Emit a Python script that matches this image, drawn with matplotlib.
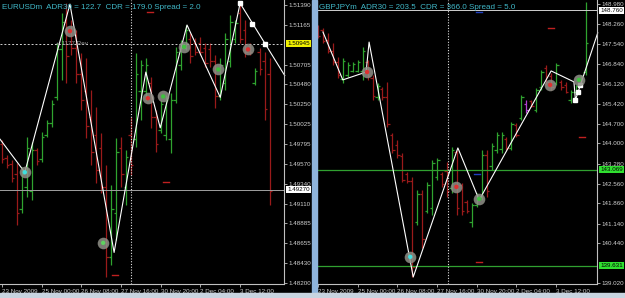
import matplotlib.pyplot as plt
import matplotlib.transforms as mtransforms
from matplotlib.patches import Rectangle

# ---- EURUSDm H4 bars (price) ----
eu_high = [1.4984, 1.4967, 1.4961, 1.4958, 1.4953, 1.4988, 1.4982, 1.4975, 1.4993, 1.5007,
           1.5030, 1.5095, 1.5130, 1.5141, 1.5122, 1.5110, 1.5084, 1.5078, 1.5041, 1.5022,
           1.4992, 1.4955, 1.4932, 1.4986, 1.4988, 1.4973, 1.5010, 1.5084, 1.5076, 1.5078,
           1.5056, 1.5019, 1.5030, 1.5036, 1.5038, 1.5091, 1.5099, 1.5116, 1.5107, 1.5101,
           1.5102, 1.5095, 1.5095, 1.5082, 1.5078, 1.5107, 1.5127, 1.5122, 1.5141, 1.5122,
           1.5095, 1.5067, 1.5090, 1.5085, 1.5078]
eu_low = [1.4958, 1.4952, 1.4936, 1.4887, 1.4900, 1.4919, 1.4915, 1.4955, 1.4959, 1.4988,
          1.4999, 1.5030, 1.5053, 1.5049, 1.5082, 1.5049, 1.5019, 1.4986, 1.4955, 1.4935,
          1.4923, 1.4827, 1.4841, 1.4869, 1.4930, 1.4910, 1.4944, 1.4976, 1.5007, 1.5030,
          1.4998, 1.4970, 1.4992, 1.4984, 1.4969, 1.5027, 1.5064, 1.5087, 1.5072, 1.5082,
          1.5082, 1.5068, 1.5068, 1.5021, 1.5030, 1.5041, 1.5068, 1.5095, 1.5095, 1.5079,
          1.5082, 1.5047, 1.5059, 1.5007, 1.4910]
eu_open = [1.4980, 1.4963, 1.4956, 1.4945, 1.4905, 1.4930, 1.4925, 1.4972, 1.4962, 1.4990,
           1.5003, 1.5033, 1.5088, 1.5120, 1.5110, 1.5090, 1.5060, 1.5040, 1.5010, 1.4990,
           1.4975, 1.4930, 1.4850, 1.4900, 1.4975, 1.4930, 1.4990, 1.4985, 1.5040, 1.5040,
           1.5050, 1.5010, 1.4995, 1.4990, 1.4985, 1.5030, 1.5070, 1.5090, 1.5100, 1.5095,
           1.5095, 1.5090, 1.5088, 1.5075, 1.5035, 1.5050, 1.5075, 1.5100, 1.5130, 1.5110,
           1.5092, 1.5050, 1.5085, 1.5075, 1.5060]
eu_close = [1.4962, 1.4955, 1.4940, 1.4900, 1.4945, 1.4975, 1.4972, 1.4960, 1.4988, 1.5004,
            1.5025, 1.5088, 1.5120, 1.5080, 1.5090, 1.5060, 1.5030, 1.5000, 1.4970, 1.4950,
            1.4930, 1.4850, 1.4905, 1.4970, 1.4945, 1.4965, 1.4955, 1.5060, 1.5070, 1.5070,
            1.5010, 1.4980, 1.5025, 1.5030, 1.5030, 1.5085, 1.5090, 1.5110, 1.5080, 1.5085,
            1.5085, 1.5072, 1.5075, 1.5035, 1.5070, 1.5100, 1.5120, 1.5118, 1.5100, 1.5085,
            1.5085, 1.5063, 1.5065, 1.5020, 1.4925]

eu_zz_x = [-0.4, 4.6, 13.7, 22.6, 29.0, 31.9, 37.3, 44.0, 48.0, 57.0]
eu_zz_y = [1.4985, 1.4947, 1.5140, 1.4855, 1.5062, 1.4998, 1.5116, 1.5033, 1.5141, 1.5058]
eu_sq_x = [48.0, 50.4, 53.0]
eu_sq_y = [1.5141, 1.5117, 1.5094]
eu_circ_x = [4.6, 13.7, 20.4, 29.4, 32.5, 36.7, 43.6, 49.6]
eu_circ_y = [1.4947, 1.5109, 1.4866, 1.5032, 1.5034, 1.5091, 1.5065, 1.5088]
eu_circ_c = ['#40e0e0', '#e03030', '#60d060', '#e03030', '#40c040', '#40c040', '#40c040', '#e03030']
eu_dash_x = [22.8, 33.0, 29.8]
eu_dash_y = [1.4829, 1.4936, 1.5131]
eu_yticks = [1.51390, 1.51165, 1.50705, 1.50480, 1.50250, 1.50025, 1.49795, 1.49570,
             1.49340, 1.49110, 1.48885, 1.48655, 1.48430, 1.48200]
eu_bid = 1.50945
eu_line = 1.49270

# ---- GBPJPYm H4 bars ----
gj_high = [148.23, 148.12, 147.95, 147.59, 147.09, 147.05, 146.91, 146.91, 146.98, 147.45,
           146.98, 146.45, 146.16, 146.02, 146.20, 144.37, 144.13, 143.66, 142.98, 142.80,
           142.34, 142.34, 142.62, 143.41, 143.48, 142.98, 143.34, 143.87, 143.77, 142.59,
           141.98, 141.87, 142.23, 143.77, 143.77, 144.02, 144.41, 144.41, 144.23, 144.77,
           144.73, 145.73, 145.55, 145.55, 145.98, 146.62, 146.80, 146.52, 146.87, 146.27,
           146.20, 145.91, 146.09, 146.45, 149.05]
gj_low = [147.77, 147.59, 147.23, 146.80, 146.34, 146.16, 146.37, 146.55, 146.55, 146.27,
          146.27, 145.55, 145.55, 145.55, 144.59, 143.66, 143.48, 142.62, 142.59, 139.23,
          141.09, 140.27, 141.52, 141.45, 142.70, 142.45, 142.09, 142.23, 141.45, 141.45,
          141.52, 141.02, 141.73, 141.98, 142.09, 143.05, 143.66, 143.66, 143.77, 143.77,
          144.23, 144.84, 145.09, 145.30, 145.12, 145.91, 146.09, 145.91, 146.09, 145.91,
          145.80, 145.45, 145.80, 146.09, 146.45]
gj_open = [148.15, 148.05, 147.70, 147.30, 146.90, 146.30, 146.45, 146.60, 146.60, 146.60,
           146.90, 146.35, 145.65, 145.95, 145.65, 144.30, 143.95, 143.55, 142.90, 142.65,
           141.20, 142.20, 141.60, 141.70, 142.80, 142.90, 143.00, 142.40, 143.70, 142.50,
           141.90, 141.20, 141.80, 142.10, 143.60, 143.20, 143.75, 143.80, 144.15, 143.85,
           144.65, 144.90, 145.40, 145.50, 145.20, 146.00, 146.70, 146.40, 146.15, 146.20,
           146.10, 145.55, 145.85, 146.10, 146.55]
gj_close = [147.85, 147.65, 147.30, 146.90, 146.45, 146.95, 146.80, 146.85, 146.90, 147.30,
            146.40, 145.70, 146.05, 145.65, 144.70, 143.75, 143.60, 142.70, 142.65, 139.60,
            142.20, 140.60, 142.50, 143.30, 143.40, 142.55, 142.30, 143.75, 141.70, 141.60,
            141.60, 141.80, 142.15, 143.60, 142.30, 143.90, 144.30, 144.30, 143.85, 144.70,
            144.30, 145.65, 145.20, 145.35, 145.90, 146.55, 146.20, 146.00, 146.80, 146.00,
            145.85, 145.85, 146.05, 146.40, 147.60]
gj_purple = [42]

gj_zz_x = [1.0, 5.0, 9.7, 10.3, 19.2, 28.2, 32.5, 47.0, 51.6, 51.9, 56.4]
gj_zz_y = [147.98, 146.27, 146.55, 147.62, 139.23, 143.84, 141.98, 146.59, 146.20, 145.55, 147.95]
gj_sq_x = [51.9, 52.5, 52.9]
gj_sq_y = [145.55, 145.84, 146.09]
gj_circ_x = [9.9, 18.6, 27.9, 32.5, 46.8, 52.6]
gj_circ_y = [146.55, 139.95, 142.45, 142.02, 146.09, 146.27]
gj_circ_c = ['#e03030', '#40e0e0', '#e03030', '#40c040', '#e03030', '#40c040']
gj_dash_x = [32.4, 53.2, 47.0]
gj_dash_y = [139.77, 144.24, 148.11]
gj_bdash_x = [32.0, 32.5]
gj_bdash_y = [142.91, 148.70]
gj_yticks = [148.980, 148.260, 147.540, 146.840, 146.120, 145.420, 144.700, 144.000,
             143.280, 142.560, 141.860, 141.140, 140.440, 139.020]
gj_top = 148.760
gj_g1 = 143.069
gj_g2 = 139.631

date_pos = [0, 8, 16, 24, 32, 40, 48]
date_lbl = ['23 Nov 2009', '25 Nov 00:00', '26 Nov 08:00', '27 Nov 16:00',
            '30 Nov 20:00', '2 Dec 04:00', '3 Dec 12:00']

GREEN = '#2fa32f'
RED = '#9a1a1a'
TXT = '#d0d0d0'
FS = 4.5


def draw_bars(ax, o, h, l, c, purple=()):
    for i in range(len(h)):
        col = GREEN if c[i] >= o[i] else RED
        if i in purple:
            col = '#b040d0'
        ax.vlines(i, l[i], h[i], color=col, lw=0.9)
        ax.hlines(o[i], i - 0.5, i, color=col, lw=0.9)
        ax.hlines(c[i], i, i + 0.5, color=col, lw=0.9)


def style(ax, xlim, ylim, yticks, fmt):
    ax.set_facecolor('black')
    ax.set_xlim(xlim)
    ax.set_ylim(ylim)
    for s in ['left', 'top']:
        ax.spines[s].set_visible(False)
    for s in ['right', 'bottom']:
        ax.spines[s].set_color('#c0c0c0')
        ax.spines[s].set_linewidth(0.8)
    ax.yaxis.tick_right()
    ax.set_yticks(yticks)
    ax.set_yticklabels([fmt % v for v in yticks])
    ax.set_xticks(date_pos)
    ax.set_xticklabels(date_lbl, ha='left')
    ax.tick_params(colors='#c0c0c0', labelcolor=TXT, labelsize=FS, length=2, width=0.6, pad=1.5)
    for t in ax.get_yticklabels() + ax.get_xticklabels():
        t.set_family('Liberation Sans')


def price_box(ax, y, txt, bg):
    tr = mtransforms.blended_transform_factory(ax.transAxes, ax.transData)
    ax.text(1.012, y, txt, transform=tr, fontsize=FS, color='black', va='center', ha='left',
            family='Liberation Sans', clip_on=False, zorder=20,
            bbox=dict(boxstyle='square,pad=0.15', fc=bg, ec='none'))


fig = plt.figure(figsize=(6.25, 2.98), dpi=100, facecolor='black')
ax1 = fig.add_axes([0.0, 1 - 284 / 298, 284 / 625, 284 / 298])
ax2 = fig.add_axes([317 / 625, 1 - 284 / 298, 280 / 625, 284 / 298])

# EURUSD panel
style(ax1, (-0.4, 56.85), (1.48188, 1.51447), eu_yticks, '%.5f')
draw_bars(ax1, eu_open, eu_high, eu_low, eu_close)
ax1.axhline(eu_bid, color='#d0d0d0', lw=0.7, ls=(0, (2, 2)))
ax1.axhline(eu_line, color='#a0a0a0', lw=0.7)
ax1.axvline(26, color='#e0e0e0', lw=0.8, ls=(0, (1, 1.5)))
ax1.plot(eu_zz_x, eu_zz_y, color='white', lw=0.8, clip_on=False)
ax1.plot(eu_sq_x, eu_sq_y, 's', color='white', ms=2.2, lw=0)
ax1.scatter(eu_circ_x, eu_circ_y, s=70, color='#909088', alpha=0.85, lw=0, zorder=5)
ax1.scatter(eu_circ_x, eu_circ_y, s=10, c=eu_circ_c, lw=0, zorder=6)
for x, y in zip(eu_dash_x, eu_dash_y):
    ax1.plot([x - 0.6, x + 0.6], [y, y], color='#c02020', lw=1.0)
ax1.text(10.8, 1.50945, '+ 1177 Rev', color='#a0a0a0', fontsize=FS, va='center',
         family='Liberation Sans')
ax1.text(0.007, 0.985, 'EURUSDm  ADR30 = 122.7  CDR = 179.0 Spread = 2.0', transform=ax1.transAxes,
         color='#40b8c8', fontsize=5.8, va='top', family='Liberation Sans')
price_box(ax1, eu_bid, '%.5f' % eu_bid, '#f0f000')
price_box(ax1, eu_line, '%.5f' % eu_line, 'white')

# GBPJPY panel
style(ax2, (-0.2, 56.25), (138.98, 149.123), gj_yticks, '%.3f')
draw_bars(ax2, gj_open, gj_high, gj_low, gj_close, gj_purple)
ax2.axhline(gj_top, color='#d0d0d0', lw=0.7)
ax2.axhline(gj_g1, color='#30a030', lw=0.9)
ax2.axhline(gj_g2, color='#30a030', lw=0.9)
ax2.axvline(26.2, color='#e0e0e0', lw=0.8, ls=(0, (1, 1.5)))
ax2.plot(gj_zz_x, gj_zz_y, color='white', lw=0.8, clip_on=False)
ax2.plot(gj_sq_x, gj_sq_y, 's', color='white', ms=2.2, lw=0)
ax2.scatter(gj_circ_x, gj_circ_y, s=70, color='#909088', alpha=0.85, lw=0, zorder=5)
ax2.scatter(gj_circ_x, gj_circ_y, s=10, c=gj_circ_c, lw=0, zorder=6)
for x, y in zip(gj_dash_x, gj_dash_y):
    ax2.plot([x - 0.6, x + 0.6], [y, y], color='#c02020', lw=1.0)
for x, y in zip(gj_bdash_x, gj_bdash_y):
    ax2.plot([x - 0.6, x + 0.6], [y, y], color='#2040c0', lw=1.0)
ax2.text(0.007, 0.985, 'GBPJPYm  ADR30 = 203.5  CDR = 366.0 Spread = 5.0', transform=ax2.transAxes,
         color='#40b8c8', fontsize=5.8, va='top', family='Liberation Sans')
price_box(ax2, gj_top, '%.3f' % gj_top, 'white')
price_box(ax2, gj_g1, '%.3f' % gj_g1, '#30e030')
price_box(ax2, gj_g2, '%.3f' % gj_g2, '#30e030')

# window frame pieces
fig.patches.append(Rectangle((312 / 625, 0), 5 / 625, 1, transform=fig.transFigure,
                             color='#8fb4dc', zorder=10))
fig.patches.append(Rectangle((0, 0), 1, 5 / 298, transform=fig.transFigure,
                             color='#c8d4e0', zorder=10))

fig.savefig('out.png', dpi=100, facecolor='black')
